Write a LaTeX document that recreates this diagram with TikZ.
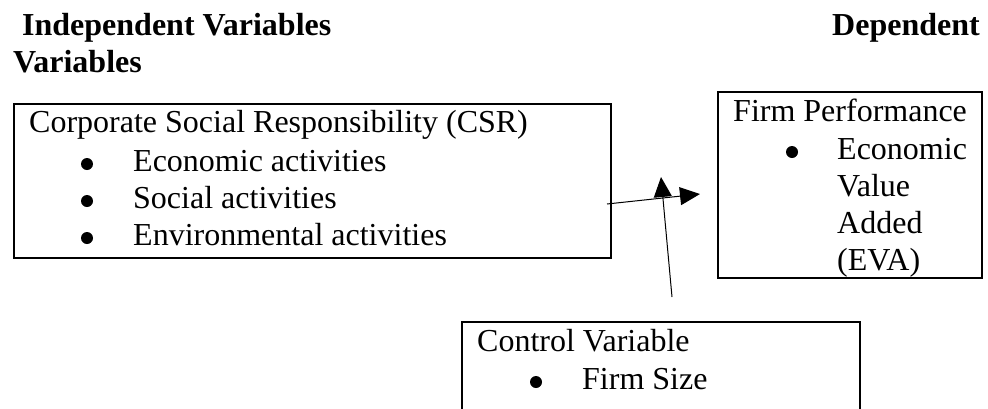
\documentclass[tikz,border=0pt]{standalone}
\usepackage{fontspec}
\setmainfont{Liberation Serif}
\usetikzlibrary{arrows.meta}
\begin{document}
\begin{tikzpicture}[x=1pt,y=-1pt,
  boxstyle/.style={draw, line width=1.5pt, anchor=north west, inner sep=0pt},
  txt/.style={anchor=base west, inner sep=0pt, font=\fontsize{32}{37}\selectfont},
  btxt/.style={anchor=base west, inner sep=0pt, font=\fontsize{32}{37}\selectfont\bfseries},
  bul/.style={circle, fill, inner sep=0pt, minimum size=12pt},
  conn/.style={line width=1pt, -{Triangle[length=20pt,width=18pt]}}]
\useasboundingbox (0,0) rectangle (988,408);
% headings
\node[btxt] (h1) at (22,35) {Independent Variables};
\node[btxt, anchor=base east] (h2) at (980,35) {Dependent};
\node[btxt] (h3) at (13,72) {Variables};
% boxes
\node[boxstyle, minimum width=597pt, minimum height=154pt] (csr) at (13,103) {};
\node[boxstyle, minimum width=264pt, minimum height=186pt] (fp) at (717,91) {};
\node[boxstyle, minimum width=398pt, minimum height=120pt] (cv) at (461,321) {};
% CSR text
\node[txt] (c0) at (29,132) {Corporate Social Responsibility (CSR)};
\node[bul] (cb1) at (87,164) {};
\node[txt] (c1) at (133,171) {Economic activities};
\node[bul] (cb2) at (87,201) {};
\node[txt] (c2) at (133,208) {Social activities};
\node[bul] (cb3) at (87,238) {};
\node[txt] (c3) at (133,245) {Environmental activities};
% FP text
\node[txt] (f0) at (733,121) {Firm Performance};
\node[bul] (fb1) at (792,152) {};
\node[txt] (f1) at (837,159) {Economic};
\node[txt] (f2) at (837,196) {Value};
\node[txt] (f3) at (837,233) {Added};
\node[txt] (f4) at (837,270) {(EVA)};
% Control text
\node[txt] (v0) at (477,351) {Control Variable};
\node[bul] (vb1) at (536,382) {};
\node[txt] (v1) at (582,389) {Firm Size};
% connectors
\coordinate (a1s) at (607,204);
\coordinate (a1e) at (700,194);
\coordinate (a2s) at (672,297);
\coordinate (a2e) at (661,177);
\draw[conn] (a1s) -- (a1e);
\draw[conn] (a2s) -- (a2e);
\end{tikzpicture}
\end{document}
